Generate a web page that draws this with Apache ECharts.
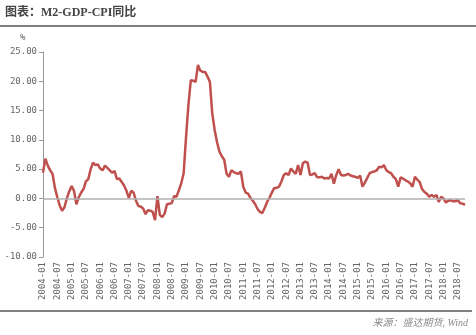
<!DOCTYPE html>
<html><head><meta charset="utf-8">
<script src="https://cdn.jsdelivr.net/npm/echarts@6/dist/echarts.min.js"></script>
<style>html,body{margin:0;padding:0;background:#fff}#c{width:476px;height:335px}</style>
</head><body><div id="c"></div>
<script>
const startYear = 2004;
const values = [
4.4,6.8,5.6,4.8,4.2,1.8,0.2,-1.2,-2.1,-1.5,0.0,1.2,2.1,1.3,-1.0,0.2,1.0,1.6,2.9,3.3,
5.0,6.1,5.7,5.8,5.1,4.8,5.6,5.2,4.8,4.4,4.7,3.3,3.4,2.8,2.2,1.3,0.1,1.3,1.0,-0.4,
-1.3,-1.4,-1.7,-2.7,-2.0,-2.1,-2.3,-3.7,0.4,-2.8,-3.2,-2.6,-1.0,-0.9,-0.8,0.4,0.3,1.4,2.6,4.3,
10.5,16.0,20.2,20.1,19.9,22.8,21.8,21.6,21.6,20.8,19.9,14.5,11.7,9.6,8.0,7.2,6.6,4.2,3.7,4.8,
4.5,4.3,4.2,4.6,2.0,1.0,0.8,0.1,-0.4,-1.0,-1.8,-2.3,-2.5,-1.6,-0.6,0.1,1.0,1.8,1.8,2.0,
2.9,4.0,4.3,4.0,5.1,4.6,4.2,5.7,4.0,6.0,6.3,6.1,4.0,4.1,4.3,3.6,3.6,3.7,3.4,3.5,
3.4,4.2,2.5,4.0,5.0,4.0,3.9,4.0,4.2,3.9,3.8,3.7,3.5,3.9,2.0,2.7,3.5,4.3,4.5,4.6,
4.8,5.4,5.3,5.7,4.8,4.5,4.3,3.7,3.3,2.0,3.6,3.4,3.1,2.9,2.6,2.0,3.7,3.2,2.8,1.6,
1.1,0.8,0.3,0.6,0.3,0.6,-0.6,0.3,0.0,-0.7,-0.4,-0.3,-0.5,-0.5,-0.3,-0.8,-0.9,-1.1
];
const categories = values.map((v,i)=>{
  const y = startYear + Math.floor(i/12), m = i%12+1;
  return y + '-' + (m<10?'0':'') + m;
});
const yTicks = {min:-10, max:25, interval:5};
const titleText = '图表：M2-GDP-CPI同比';
const sourceText = '来源：盛达期货, Wind';

const chart = echarts.init(document.getElementById('c'), null, {renderer:'canvas'});
const lblFont = '"DejaVu Sans Mono","Liberation Mono",monospace';
chart.setOption({
  animation:false,
  backgroundColor:'#fff',
  grid:{left:43,right:11,top:52,bottom:78,containLabel:false},
  graphic:[
    {type:'text',left:5,top:7,style:{text:titleText,fill:'#444',font:'bold 12px "Liberation Serif","Noto Sans CJK SC",serif'}},
    {type:'line',shape:{x1:0,y1:26,x2:476,y2:26},style:{stroke:'#555',lineWidth:1.5}},
    {type:'text',left:20,top:33,style:{text:'%',fill:'#595959',font:'9px '+lblFont}},
    {type:'line',shape:{x1:0,y1:311,x2:472,y2:311},style:{stroke:'#555',lineWidth:1.5}},
    {type:'text',right:8,top:318,style:{text:sourceText,fill:'#8a8a8a',font:'italic 10px "Liberation Serif","Noto Sans CJK SC",serif'}}
  ],
  xAxis:{
    type:'category',data:categories,boundaryGap:false,
    axisLine:{show:false,onZero:false},axisTick:{show:false},
    axisLabel:{interval:5,rotate:90,margin:5,color:'#666',fontSize:9,fontFamily:lblFont},
    splitLine:{show:false}
  },
  yAxis:{
    type:'value',min:yTicks.min,max:yTicks.max,interval:yTicks.interval,
    axisLine:{show:true,lineStyle:{color:'#999',width:1}},
    axisTick:{show:true,length:4,lineStyle:{color:'#999'}},
    axisLabel:{margin:6,color:'#666',fontSize:9,fontFamily:lblFont,formatter:v=>v.toFixed(2)},
    splitLine:{show:false}
  },
  series:[{
    type:'line',data:values,showSymbol:false,symbol:'none',
    lineStyle:{color:'#c0504d',width:2.5},
    markLine:{silent:true,symbol:'none',label:{show:false},
      lineStyle:{color:'#b0b0b0',width:1.5,type:'solid'},data:[{yAxis:0}]},
    z:3
  }]
});
</script></body></html>
